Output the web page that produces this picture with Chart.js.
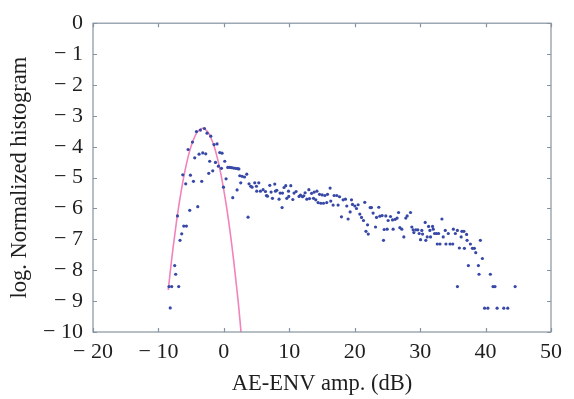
<!DOCTYPE html>
<html>
<head>
<meta charset="utf-8">
<script src="https://cdn.jsdelivr.net/npm/chart.js@4"></script>
<style>
  html, body { margin: 0; padding: 0; background: #fff; }
  #wrap { width: 574px; height: 399px; }
</style>
</head>
<body>
<div id="wrap"><canvas id="histChart" width="574" height="399"></canvas></div>
<script>
// measured histogram points (AE-ENV amplitude in dB, log of normalized count)
const ampDb = [
  -4.19, -3.58, -2.97, -2.57, -2.00, -1.50, -1.04, -4.80, -5.47, -4.45, -3.79, -3.23, -2.77,
  -0.63, -0.28, -2.16, -1.28, -0.83, 0.14, -0.37, -1.70, -2.31, -6.28, -5.11, -5.83, -4.65,
  -3.38, 0.34, -0.06, 2.02, 1.36, -3.99, -5.21, -7.09, -6.13, -5.72, -6.44, -6.70, -7.51,
  -7.36, -8.38, -7.97, -6.90, -8.20,
  0.6, 0.9, 1.2, 1.5, 1.8, 2.1, 2.3, 2.43, 2.79, 3.15, 3.50, 2.58, 3.70,
  3.85, 4.11, 4.31, 4.72, 4.98, 5.34, 5.03, 5.59, 6.00, 6.36, 6.51, 6.66, 7.02, 7.22, 7.43,
  7.78, 7.89, 8.09, 8.44, 8.60, 8.96, 8.90, 9.20, 9.46, 9.62, 9.88, 9.92, 10.23, 10.54,
  10.73, 11.04, 11.50, 11.71, 12.02, 12.22, 12.42, 12.68, 12.99,
  13.41, 13.81, 14.22, 14.62, 15.03, 15.44, 15.84, 16.24, 16.85, 17.26, 17.68, 13.09, 13.70,
  14.05, 14.40, 14.82, 15.23, 15.73, 16.34, 16.70, 17.46, 17.97, 18.23, 18.58, 18.79, 18.99,
  19.30, 19.51, 19.66, 20.02, 20.27, 20.52, 20.78, 21.04, 21.34, 21.54, 21.96, 22.36, 22.56,
  22.81, 23.18, 23.33, 23.68, 23.84, 24.19, 21.72, 22.07, 24.40, 24.50,
  24.75, 25.11, 25.47, 25.78, 26.18, 26.48, 26.70, 24.96, 25.87, 26.90, 27.20, 27.51, 27.81,
  28.02, 28.53, 28.73, 28.93, 29.04, 29.34, 29.65, 29.85, 30.06, 30.26, 30.37, 30.77, 30.87,
  31.08, 31.29, 31.49, 31.59, 31.90, 32.00, 32.21, 32.51, 32.82, 32.62, 33.03, 33.33, 33.53,
  33.84, 33.94, 34.30, 34.57, 34.98, 35.08, 35.38, 35.69, 35.99,
  36.38, 36.69, 37.10, 36.27, 36.76, 37.17, 37.68, 37.99, 38.29, 38.50, 39.20, 39.51, 37.37,
  38.90, 39.00, 40.73, 35.70, 41.14, 41.44, 44.52, 39.85, 40.35, 41.76, 42.78, 43.39
];
const logHist = [
  -3.51, -3.46, -3.41, -3.56, -3.66, -3.93, -3.91, -3.85, -4.09, -4.36, -4.24, -4.20, -4.23,
  -4.19, -4.21, -4.47, -4.51, -4.63, -4.47, -4.70, -4.78, -4.86, -4.91, -4.92, -5.20, -5.12,
  -5.12, -5.04, -5.31, -5.40, -5.65, -5.94, -6.06, -6.24, -6.57, -6.57, -6.82, -7.03, -7.85,
  -8.13, -8.53, -8.53, -8.53, -9.22,
  -4.67, -4.67, -4.68, -4.69, -4.70, -4.71, -4.72, -4.94, -4.96, -4.98, -4.89, -5.17, -6.28,
  -5.20, -5.28, -5.31, -5.17, -5.28, -5.17, -5.44, -5.44, -5.39, -5.45, -5.58, -5.60, -5.25, -5.47, -5.67,
  -5.21, -5.44, -5.41, -5.70, -5.50, -5.50, -5.97, -5.32, -5.26, -5.67, -5.44, -5.61, -5.26, -5.71,
  -5.50, -5.45, -5.61, -5.57, -5.62, -5.59, -5.49, -5.70, -5.39,
  -5.51, -5.47, -5.44, -5.54, -5.56, -5.58, -5.54, -5.34, -5.58, -5.58, -5.62, -5.68, -5.67,
  -5.72, -5.81, -5.83, -5.83, -5.81, -5.76, -5.89, -5.89, -6.27, -5.72, -5.70, -5.92, -6.34,
  -6.11, -5.72, -5.87, -5.92, -6.00, -5.88, -6.18, -6.29, -6.39, -5.80, -6.53, -5.97, -5.97,
  -6.15, -6.60, -6.29, -5.96, -6.25, -6.23, -6.74, -6.83, -7.03, -6.68,
  -6.24, -6.39, -6.26, -6.37, -6.35, -6.31, -6.13, -6.67, -6.67, -6.62, -6.67, -6.92, -6.31,
  -6.24, -6.13, -6.60, -6.69, -6.78, -6.69, -6.69, -6.81, -7.01, -6.71, -6.83, -6.45, -7.03,
  -6.92, -6.58, -6.71, -6.92, -6.58, -6.67, -6.81, -6.81, -6.81, -7.15, -7.15, -6.34, -6.92,
  -6.71, -7.15, -6.81, -7.15, -7.15, -6.67, -6.81, -6.71, -7.28,
  -6.74, -6.74, -6.84, -6.92, -7.29, -7.03, -7.15, -7.29, -7.29, -7.43, -7.03, -7.62, -7.85,
  -7.85, -8.13, -8.13, -8.53, -8.53, -8.53, -8.53, -9.23, -9.23, -9.23, -9.23, -9.23
];

// fitted curve
const fitX = [-8.5, -8, -7.5, -7, -6.5, -6, -5.5, -5, -4.5, -4, -3.25, -2.5, -2, -1.5, -1, -0.5, 0, 0.5, 1, 1.5, 2, 2.3, 2.62];
const fitY = [-8.64, -7.69, -6.85, -6.07, -5.41, -4.84, -4.36, -3.98, -3.70, -3.51, -3.40, -3.51, -3.70, -3.98, -4.36, -4.84, -5.41, -6.07, -6.83, -7.69, -8.64, -9.25, -10.0];

const xTicks = [-20, -10, 0, 10, 20, 30, 40, 50];
const yTicks = [0, -1, -2, -3, -4, -5, -6, -7, -8, -9, -10];

const frameColor = '#8593a1';
const serif = "'Liberation Serif', 'DejaVu Serif', serif";

const fmt = v => (v < 0 ? '\u2212 ' + Math.abs(v) : String(v));

// box around the plot plus small inward tick marks on all four sides
const framePlugin = {
  id: 'frame',
  afterDatasetsDraw(chart) {
    const { ctx, chartArea: a, scales } = chart;
    ctx.save();
    ctx.strokeStyle = frameColor;
    ctx.lineWidth = 1.2;
    ctx.strokeRect(a.left, a.top, a.right - a.left, a.bottom - a.top);
    ctx.beginPath();
    xTicks.forEach(v => {
      const px = Math.round(scales.x.getPixelForValue(v)) + 0.5;
      ctx.moveTo(px, a.bottom); ctx.lineTo(px, a.bottom - 4);
      ctx.moveTo(px, a.top); ctx.lineTo(px, a.top + 4);
    });
    yTicks.forEach(v => {
      const py = Math.round(scales.y.getPixelForValue(v)) + 0.5;
      ctx.moveTo(a.left, py); ctx.lineTo(a.left + 4, py);
      ctx.moveTo(a.right, py); ctx.lineTo(a.right - 4, py);
    });
    ctx.stroke();
    ctx.restore();
  }
};

const ctx = document.getElementById('histChart').getContext('2d');
new Chart(ctx, {
  type: 'scatter',
  data: {
    datasets: [
      {
        label: 'histogram',
        data: ampDb.map((x, i) => ({ x: x, y: logHist[i] })),
        pointRadius: 1.6,
        pointBorderWidth: 0,
        backgroundColor: '#3748a6',
        borderColor: '#3748a6',
        order: 0
      },
      {
        type: 'line',
        label: 'fit',
        data: fitX.map((x, i) => ({ x: x, y: fitY[i] })),
        borderColor: '#f283bb',
        borderWidth: 1.6,
        pointRadius: 0,
        tension: 0.4,
        fill: false,
        order: 1
      }
    ]
  },
  options: {
    responsive: false,
    animation: false,
    layout: { padding: { left: 0, top: 17, right: 23, bottom: 0 } },
    plugins: { legend: { display: false }, tooltip: { enabled: false } },
    scales: {
      x: {
        type: 'linear',
        min: -20, max: 50,
        afterFit: s => { s.height = 67; },
        afterBuildTicks: s => { s.ticks = xTicks.map(v => ({ value: v })); },
        grid: { display: false, drawTicks: false },
        border: { display: false },
        ticks: {
          padding: 7,
          color: '#1e1e1e',
          font: { family: serif, size: 22 },
          maxRotation: 0,
          callback: fmt
        },
        title: {
          display: true,
          text: 'AE-ENV amp. (dB)',
          color: '#1e1e1e',
          font: { family: serif, size: 22.5 },
          padding: { top: 0, bottom: 1 }
        }
      },
      y: {
        type: 'linear',
        min: -10, max: 0,
        afterFit: s => { s.width = 93; },
        afterBuildTicks: s => { s.ticks = yTicks.map(v => ({ value: v })); },
        grid: { display: false, drawTicks: false },
        border: { display: false },
        ticks: {
          padding: 10,
          color: '#1e1e1e',
          font: { family: serif, size: 22 },
          callback: fmt
        },
        title: {
          display: true,
          text: 'log. Normalized histogram',
          color: '#1e1e1e',
          font: { family: serif, size: 22.5 },
          padding: { top: 7, bottom: 0 }
        }
      }
    }
  },
  plugins: [framePlugin]
});
</script>
</body>
</html>
